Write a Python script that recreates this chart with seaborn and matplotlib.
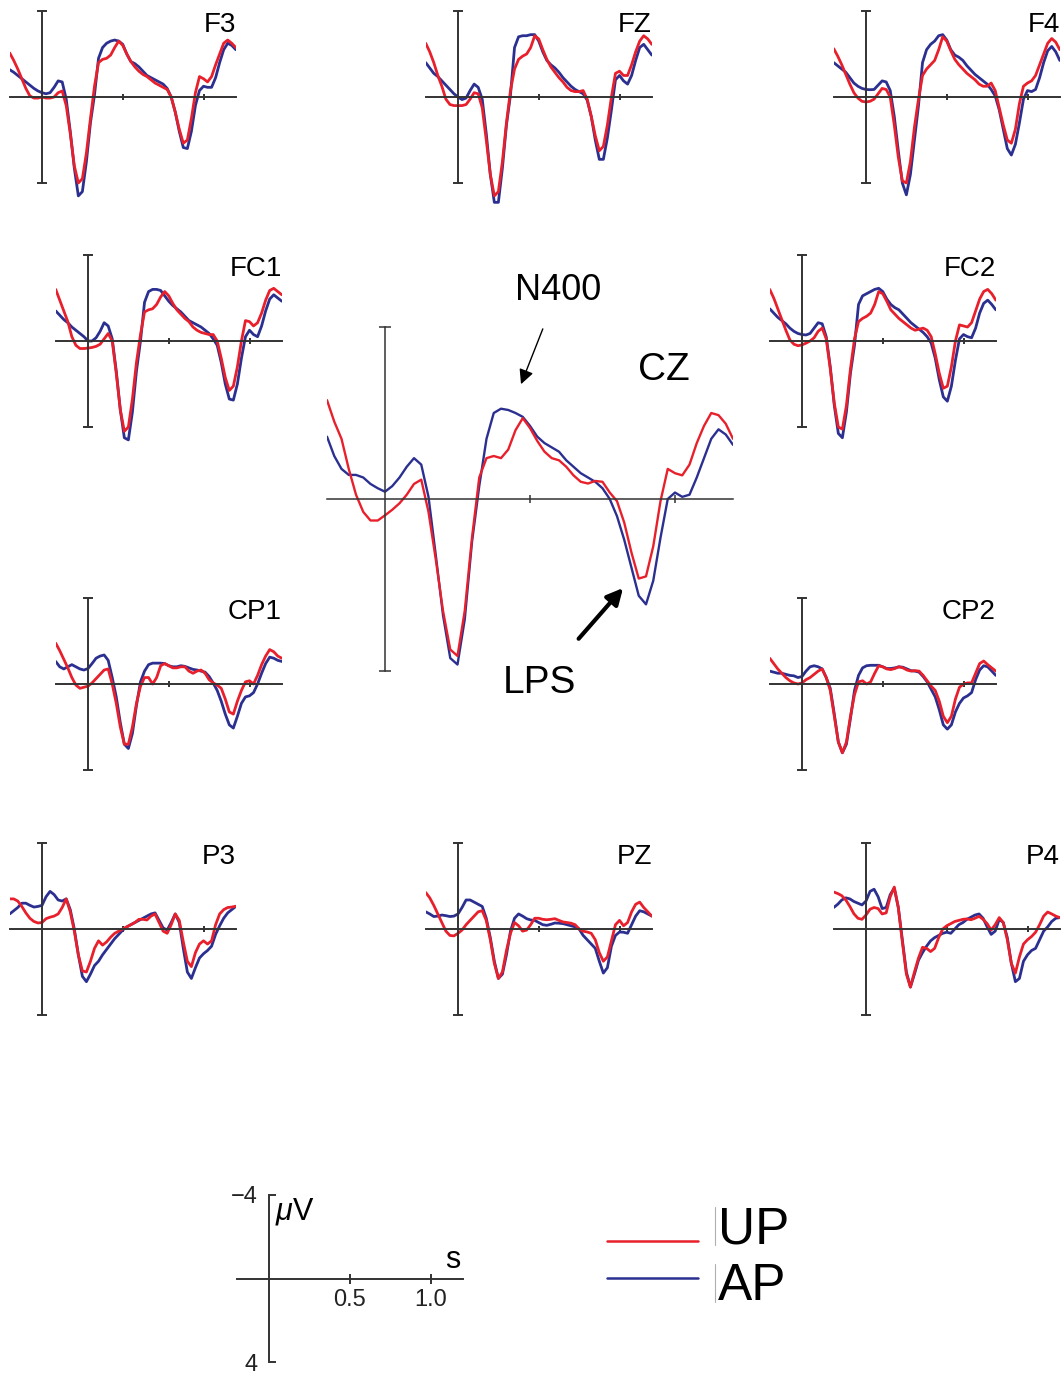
import numpy as np
import pandas as pd
import seaborn as sns
import matplotlib.pyplot as plt
from matplotlib.lines import Line2D

# shared time base (s), 25 ms steps
times = np.round(np.arange(-0.2, 1.2001, 0.025), 3)

# amplitudes in microvolts (negative plotted upwards)
F3_UP = [-2.05, -1.7, -1.3, -0.85, -0.4, -0.05, 0.05, 0.05, 0.0, 0.05,
         0.05, 0.0, -0.2, -0.28, 0.4, 1.7, 3.2, 4.0, 3.8, 2.6,
         1.0, -0.5, -1.6, -1.75, -1.8, -1.95, -2.3, -2.6, -2.4, -2.0,
         -1.65, -1.4, -1.2, -1.05, -0.95, -0.8, -0.65, -0.55, -0.45, -0.35,
         0.0, 0.7, 1.5, 2.15, 2.0, 1.0, -0.2, -0.95, -0.85, -0.7,
         -0.95, -1.5, -2.0, -2.5, -2.65, -2.5, -2.3]
F3_AP = [-1.27, -1.15, -1.0, -0.85, -0.7, -0.55, -0.4, -0.28, -0.2, -0.15,
         -0.2, -0.45, -0.75, -0.7, 0.1, 1.6, 3.3, 4.6, 4.4, 3.0,
         1.2, -0.1, -1.8, -2.3, -2.5, -2.6, -2.65, -2.6, -2.45, -2.0,
         -1.65, -1.55, -1.4, -1.2, -1.0, -0.9, -0.8, -0.7, -0.6, -0.4,
         0.0, 0.7, 1.6, 2.35, 2.4, 1.6, 0.4, -0.3, -0.5, -0.45,
         -0.45, -0.9, -1.6, -2.2, -2.5, -2.4, -2.2]
FZ_UP = [-2.5, -2.1, -1.6, -1.0, -0.5, 0.1, 0.35, 0.4, 0.4, 0.4,
         0.35, 0.1, -0.2, -0.15, 0.5, 2.0, 3.6, 4.6, 4.4, 3.0,
         1.2, -0.3, -1.3, -1.75, -1.9, -2.0, -2.3, -2.85, -2.7, -2.2,
         -1.75, -1.4, -1.15, -0.9, -0.7, -0.45, -0.3, -0.25, -0.25, -0.3,
         0.1, 0.9, 1.8, 2.5, 2.3, 1.3, 0.0, -1.1, -1.2, -1.0,
         -1.0, -1.5, -2.1, -2.6, -2.85, -2.7, -2.45]
FZ_AP = [-1.6, -1.35, -1.1, -0.95, -0.75, -0.55, -0.35, -0.15, 0.0, 0.12,
         0.05, -0.3, -0.6, -0.45, 0.1, 1.7, 3.6, 4.9, 4.9, 3.3,
         1.3, -0.1, -2.3, -2.8, -2.85, -2.85, -2.9, -2.9, -2.6, -2.1,
         -1.7, -1.5, -1.35, -1.15, -0.9, -0.7, -0.5, -0.35, -0.25, -0.15,
         0.15, 0.9, 2.0, 2.9, 2.9, 1.9, 0.6, -0.8, -1.0, -0.75,
         -0.6, -1.0, -1.7, -2.3, -2.45, -2.2, -1.95]
F4_UP = [-2.25, -1.9, -1.5, -1.05, -0.6, -0.2, 0.05, 0.2, 0.23, 0.2,
         0.1, -0.15, -0.4, -0.35, 0.0, 1.3, 2.8, 3.9, 4.0, 3.0,
         1.4, 0.1, -1.0, -1.3, -1.5, -1.7, -2.2, -2.8, -2.6, -2.15,
         -1.75, -1.5, -1.3, -1.1, -0.95, -0.8, -0.6, -0.5, -0.5, -0.65,
         -0.3, 0.5, 1.3, 2.0, 2.15, 1.5, 0.3, -0.5, -0.65, -0.75,
         -1.0, -1.5, -2.0, -2.5, -2.72, -2.55, -2.2]
F4_AP = [-1.6, -1.45, -1.3, -1.15, -0.9, -0.65, -0.5, -0.4, -0.35, -0.34,
         -0.35, -0.55, -0.75, -0.7, -0.3, 0.9, 2.5, 4.0, 4.55, 3.6,
         2.0, 0.4, -1.6, -2.2, -2.45, -2.6, -2.85, -2.9, -2.65, -2.2,
         -1.95, -1.85, -1.7, -1.45, -1.25, -1.05, -0.9, -0.75, -0.6, -0.35,
         -0.05, 0.6, 1.5, 2.4, 2.7, 2.2, 1.2, 0.1, -0.3, -0.25,
         -0.35, -0.9, -1.6, -2.15, -2.35, -2.1, -1.7]
FC1_UP = [-2.4, -1.9, -1.4, -0.9, -0.2, 0.2, 0.35, 0.35, 0.33, 0.3,
          0.25, 0.15, -0.1, -0.35, 0.0, 1.5, 3.2, 4.2, 4.0, 2.7,
          1.0, -0.3, -1.35, -1.45, -1.5, -1.7, -2.05, -2.3, -2.1, -1.75,
          -1.45, -1.25, -1.05, -0.9, -0.65, -0.5, -0.4, -0.35, -0.3, -0.3,
          0.0, 0.8, 1.7, 2.3, 2.1, 1.2, 0.0, -0.95, -0.9, -0.7,
          -0.85, -1.3, -1.9, -2.35, -2.45, -2.3, -2.15]
FC1_AP = [-1.4, -1.2, -1.0, -0.85, -0.65, -0.5, -0.35, -0.2, 0.0, 0.0,
          -0.15, -0.45, -0.85, -0.7, -0.1, 1.4, 3.2, 4.5, 4.6, 3.3,
          1.4, 0.0, -1.8, -2.3, -2.4, -2.4, -2.35, -2.1, -1.85, -1.65,
          -1.5, -1.35, -1.15, -0.95, -0.85, -0.75, -0.65, -0.5, -0.35, -0.1,
          0.2, 1.0, 2.0, 2.7, 2.75, 2.0, 0.8, -0.2, -0.5, -0.3,
          -0.2, -0.7, -1.4, -1.95, -2.15, -2.0, -1.85]
FC2_UP = [-2.4, -2.0, -1.5, -1.0, -0.5, -0.05, 0.15, 0.22, 0.18, 0.1,
          0.0, -0.15, -0.45, -0.6, -0.1, 1.3, 2.9, 4.0, 4.1, 3.0,
          1.3, -0.1, -0.9, -1.05, -1.15, -1.3, -1.7, -2.3, -2.2, -1.85,
          -1.45, -1.25, -1.05, -0.9, -0.75, -0.6, -0.5, -0.55, -0.6, -0.5,
          -0.2, 0.6, 1.5, 2.2, 2.1, 1.2, 0.0, -0.75, -0.7, -0.65,
          -0.85, -1.4, -1.95, -2.3, -2.4, -2.2, -1.9]
FC2_AP = [-1.5, -1.3, -1.1, -0.95, -0.8, -0.6, -0.45, -0.35, -0.3, -0.28,
          -0.35, -0.6, -0.85, -0.8, -0.2, 1.2, 3.0, 4.3, 4.5, 3.3,
          1.5, 0.2, -1.7, -2.1, -2.2, -2.3, -2.4, -2.45, -2.3, -1.95,
          -1.7, -1.55, -1.45, -1.25, -1.05, -0.85, -0.7, -0.55, -0.4, -0.2,
          0.1, 0.8, 1.8, 2.6, 2.8, 2.1, 0.9, -0.1, -0.3, -0.2,
          -0.15, -0.6, -1.3, -1.75, -1.9, -1.7, -1.45]
CZ_UP = [-2.3, -1.8, -1.4, -0.7, -0.1, 0.3, 0.5, 0.5, 0.38, 0.25,
         0.1, -0.1, -0.35, -0.45, 0.3, 1.4, 2.6, 3.5, 3.65, 2.6,
         0.9, -0.5, -0.95, -1.0, -0.95, -1.15, -1.6, -1.88, -1.65, -1.35,
         -1.1, -0.95, -0.9, -0.75, -0.55, -0.4, -0.36, -0.42, -0.4, -0.15,
         0.05, 0.55, 1.25, 1.85, 1.8, 1.1, 0.05, -0.7, -0.6, -0.55,
         -0.8, -1.3, -1.7, -2.0, -1.95, -1.75, -1.4]
CZ_AP = [-1.45, -1.0, -0.7, -0.56, -0.56, -0.5, -0.35, -0.25, -0.17, -0.3,
         -0.5, -0.75, -0.95, -0.8, -0.05, 1.3, 2.7, 3.7, 3.85, 2.8,
         1.0, -0.3, -1.4, -2.0, -2.1, -2.07, -2.0, -1.91, -1.7, -1.45,
         -1.3, -1.2, -1.1, -0.9, -0.75, -0.6, -0.5, -0.4, -0.25, 0.0,
         0.4, 0.95, 1.6, 2.25, 2.45, 1.9, 0.9, 0.0, -0.15, -0.05,
         -0.1, -0.5, -0.95, -1.4, -1.62, -1.5, -1.26]
CP1_UP = [-1.9, -1.55, -1.15, -0.75, -0.3, 0.05, 0.2, 0.15, 0.1, -0.05,
          -0.25, -0.45, -0.65, -0.7, 0.0, 0.9, 2.0, 2.8, 2.8, 2.0,
          0.9, 0.1, -0.3, -0.3, 0.0, -0.3, -0.85, -0.95, -0.85, -0.75,
          -0.75, -0.8, -0.8, -0.6, -0.5, -0.6, -0.65, -0.5, -0.2, -0.05,
          0.05, 0.2, 0.7, 1.3, 1.4, 0.8, 0.3, -0.1, -0.15, 0.0,
          -0.4, -0.9, -1.3, -1.6, -1.5, -1.3, -1.2]
CP1_AP = [-1.05, -0.8, -0.7, -0.8, -0.9, -0.8, -0.7, -0.65, -0.72, -0.95,
          -1.2, -1.3, -1.35, -1.1, -0.3, 0.6, 1.8, 2.8, 3.0, 2.3,
          1.0, -0.1, -0.6, -0.9, -0.97, -0.97, -0.97, -0.95, -0.85, -0.8,
          -0.8, -0.85, -0.82, -0.75, -0.68, -0.65, -0.6, -0.55, -0.35, -0.05,
          0.3, 0.8, 1.4, 1.9, 2.05, 1.5, 0.9, 0.6, 0.55, 0.4,
          0.0, -0.5, -0.95, -1.25, -1.2, -1.1, -1.05]
CP2_UP = [-1.2, -0.95, -0.7, -0.5, -0.3, -0.15, -0.05, 0.0, -0.05, -0.2,
          -0.3, -0.45, -0.6, -0.7, -0.3, 0.3, 1.5, 2.7, 3.2, 2.7,
          1.5, 0.5, -0.1, -0.15, 0.0, -0.1, -0.5, -0.85, -0.8, -0.7,
          -0.67, -0.72, -0.8, -0.75, -0.65, -0.6, -0.62, -0.6, -0.4, -0.15,
          0.1, 0.3, 0.8, 1.5, 1.8, 1.5, 0.7, 0.15, 0.0, -0.05,
          -0.05, -0.5, -0.95, -1.07, -0.9, -0.75, -0.6]
CP2_AP = [-0.6, -0.55, -0.5, -0.5, -0.45, -0.4, -0.38, -0.3, -0.35, -0.6,
          -0.8, -0.85, -0.8, -0.7, -0.3, 0.2, 1.4, 2.7, 3.2, 2.8,
          1.6, 0.3, -0.4, -0.75, -0.85, -0.87, -0.87, -0.87, -0.8, -0.72,
          -0.72, -0.75, -0.8, -0.78, -0.7, -0.62, -0.6, -0.55, -0.35, -0.1,
          0.25, 0.6, 1.2, 1.9, 2.1, 1.9, 1.3, 0.9, 0.65, 0.55,
          0.4, -0.2, -0.65, -0.85, -0.8, -0.6, -0.4]
P3_UP = [-1.4, -1.4, -1.3, -1.05, -0.75, -0.5, -0.35, -0.28, -0.3, -0.48,
         -0.55, -0.6, -0.7, -1.0, -1.4, -0.8, 0.1, 1.2, 1.95, 2.0,
         1.5, 0.9, 0.55, 0.75, 0.6, 0.38, 0.2, 0.1, 0.0, -0.1,
         -0.2, -0.3, -0.45, -0.45, -0.42, -0.6, -0.7, -0.3, 0.1, 0.2,
         -0.2, -0.7, -0.4, 0.6, 1.5, 1.75, 1.1, 0.7, 0.55, 0.7,
         0.55, -0.2, -0.7, -0.9, -1.0, -1.02, -1.06]
P3_AP = [-0.7, -0.85, -1.0, -1.2, -1.2, -1.1, -1.02, -1.05, -1.1, -1.5,
         -1.75, -1.6, -1.35, -1.3, -1.4, -0.9, 0.0, 1.2, 2.2, 2.45,
         2.1, 1.7, 1.5, 1.2, 0.95, 0.7, 0.45, 0.25, 0.05, -0.1,
         -0.2, -0.3, -0.4, -0.5, -0.6, -0.7, -0.75, -0.4, -0.05, 0.05,
         -0.3, -0.7, -0.3, 0.9, 2.0, 2.3, 1.8, 1.35, 1.15, 1.0,
         0.8, 0.25, -0.15, -0.5, -0.75, -0.9, -1.05]
PZ_UP = [-1.7, -1.45, -1.1, -0.7, -0.3, 0.1, 0.3, 0.32, 0.2, 0.05,
         -0.2, -0.4, -0.6, -0.8, -0.85, -0.4, 0.5, 1.6, 2.3, 2.0,
         1.0, 0.2, -0.3, -0.15, 0.1, 0.05, -0.2, -0.5, -0.5, -0.45,
         -0.43, -0.45, -0.48, -0.4, -0.33, -0.3, -0.27, -0.2, 0.0, 0.1,
         0.14, 0.2, 0.5, 1.1, 1.5, 1.3, 0.55, -0.2, -0.4, -0.15,
         -0.3, -0.8, -1.15, -1.25, -1.0, -0.8, -0.6]
PZ_AP = [-0.8, -0.7, -0.58, -0.6, -0.65, -0.62, -0.58, -0.6, -0.7, -1.0,
         -1.35, -1.35, -1.25, -1.15, -1.05, -0.5, 0.4, 1.5, 2.3, 2.1,
         1.2, 0.1, -0.5, -0.7, -0.6, -0.48, -0.42, -0.4, -0.3, -0.2,
         -0.17, -0.22, -0.28, -0.27, -0.25, -0.2, -0.15, -0.1, 0.0, 0.3,
         0.5, 0.7, 0.9, 1.5, 2.05, 1.8, 0.8, 0.3, 0.14, 0.15,
         0.2, -0.2, -0.6, -0.85, -0.8, -0.7, -0.6]
P4_UP = [-1.72, -1.65, -1.55, -1.35, -1.05, -0.71, -0.5, -0.45, -0.65, -0.92,
         -1.0, -0.95, -0.7, -0.75, -1.5, -1.95, -1.0, 0.6, 2.1, 2.7,
         2.0, 1.35, 0.85, 0.9, 1.05, 0.9, 0.4, 0.0, -0.15, -0.25,
         -0.35, -0.4, -0.45, -0.47, -0.43, -0.5, -0.59, -0.45, -0.25, 0.05,
         -0.2, -0.53, -0.3, 0.5, 1.6, 2.05, 1.3, 0.7, 0.5, 0.35,
         0.15, -0.2, -0.6, -0.79, -0.7, -0.6, -0.53]
P4_AP = [-1.0, -1.15, -1.35, -1.45, -1.4, -1.28, -1.2, -1.12, -1.3, -1.75,
         -1.85, -1.5, -0.95, -1.0, -1.6, -1.9, -1.0, 0.5, 2.0, 2.7,
         2.1, 1.45, 1.1, 0.8, 0.55, 0.4, 0.3, 0.2, 0.15, 0.2,
         0.0, -0.2, -0.3, -0.45, -0.55, -0.65, -0.7, -0.5, -0.1, 0.25,
         0.1, -0.45, -0.3, 0.4, 1.6, 2.45, 2.3, 1.5, 1.2, 1.0,
         0.9, 0.5, 0.1, -0.1, -0.35, -0.5, -0.53]

channels = {
    'F3': (F3_UP, F3_AP), 'FZ': (FZ_UP, FZ_AP), 'F4': (F4_UP, F4_AP),
    'FC1': (FC1_UP, FC1_AP), 'FC2': (FC2_UP, FC2_AP), 'CZ': (CZ_UP, CZ_AP),
    'CP1': (CP1_UP, CP1_AP), 'CP2': (CP2_UP, CP2_AP),
    'P3': (P3_UP, P3_AP), 'PZ': (PZ_UP, PZ_AP), 'P4': (P4_UP, P4_AP),
}

frames = []
for ch, (up, ap) in channels.items():
    assert len(up) == len(times) and len(ap) == len(times), ch
    for cond, vals in (('AP', ap), ('UP', up)):
        frames.append(pd.DataFrame({'channel': ch, 'condition': cond,
                                    'time': times, 'uV': vals}))
df = pd.concat(frames, ignore_index=True)

RED, BLUE = '#e8202c', '#2b3090'
AXC = '#333333'
palette = {'UP': RED, 'AP': BLUE}

sns.set_style('white')
plt.rcParams['font.family'] = ['Liberation Sans', 'DejaVu Sans']
plt.rcParams['text.color'] = 'black'
plt.rcParams['mathtext.fontset'] = 'custom'
plt.rcParams['mathtext.it'] = 'Liberation Sans:italic'
plt.rcParams['mathtext.rm'] = 'Liberation Sans'

W, H = 1061, 1377
fig = plt.figure(figsize=(W / 100, H / 100), dpi=100)


def make_axes(x0, y0, sx, sy):
    # x0, y0: pixel spot of (0 s, 0 uV); sx, sy: pixels per second / per uV
    left = x0 - 0.2 * sx
    top = y0 - 4.5 * sy
    ax = fig.add_axes([left / W, 1 - (top + 10 * sy) / H, 1.4 * sx / W, 10 * sy / H])
    ax.patch.set_visible(False)
    return ax


def style(ax, alw, ylen, xlen):
    ax.set_xlim(-0.2, 1.2)
    ax.set_ylim(5.5, -4.5)
    ax.set_xlabel('')
    ax.set_ylabel('')
    for side in ('top', 'right'):
        ax.spines[side].set_visible(False)
    for side in ('left', 'bottom'):
        ax.spines[side].set_position(('data', 0))
        ax.spines[side].set_linewidth(alw)
        ax.spines[side].set_color(AXC)
    ax.spines['left'].set_bounds(-4, 4)
    ax.spines['bottom'].set_bounds(-0.2, 1.2)
    ax.set_xticks([0.5, 1.0])
    ax.set_yticks([-4, 4])
    ax.tick_params(axis='y', left=True, direction='inout', length=ylen, width=alw,
                   color=AXC, labelleft=False)
    ax.tick_params(axis='x', bottom=True, direction='inout', length=xlen, width=alw,
                   color=AXC, labelbottom=False)


small_pos = {
    'F3': (42, 97), 'FZ': (458, 97), 'F4': (866, 97),
    'FC1': (88, 341), 'FC2': (802, 341),
    'CP1': (88, 684), 'CP2': (802, 684),
    'P3': (42, 929), 'PZ': (458, 929), 'P4': (866, 929),
}

for ch, (x0, y0) in small_pos.items():
    ax = make_axes(x0, y0, 161.5, 21.5)
    sns.lineplot(data=df[df['channel'] == ch], x='time', y='uV', hue='condition',
                 hue_order=['AP', 'UP'], palette=palette, linewidth=2.0,
                 legend=False, ax=ax)
    style(ax, 1.4, 7, 5)
    ax.text(1.2, -3.95, ch, ha='right', va='top', fontsize=20)

# central CZ panel, drawn larger
ax = make_axes(385, 499, 290, 43)
sns.lineplot(data=df[df['channel'] == 'CZ'], x='time', y='uV', hue='condition',
             hue_order=['AP', 'UP'], palette=palette, linewidth=1.7,
             legend=False, ax=ax)
style(ax, 1.1, 8, 6)
ax.text(0.96, -3.0, 'CZ', ha='center', va='center', fontsize=28)
ax.annotate('N400', xy=(0.469, -2.67), xytext=(0.597, -4.86),
            ha='center', va='center', fontsize=26, annotation_clip=False,
            arrowprops=dict(arrowstyle='-|>', color='black', lw=1.0,
                            mutation_scale=22, shrinkA=14, shrinkB=0))
ax.annotate('LPS', xy=(0.821, 2.07), xytext=(0.534, 4.28),
            ha='center', va='center', fontsize=28, annotation_clip=False,
            arrowprops=dict(arrowstyle='-|>', color='black', lw=3.0,
                            mutation_scale=24, shrinkA=22, shrinkB=0))

# scale bar
ax = make_axes(269, 1278.5, 161.5, 20.9)
style(ax, 1.4, 6, 6)
ax.tick_params(axis='y', direction='in', length=5, labelleft=True, labelsize=17,
               pad=8, labelcolor='#222222')
ax.tick_params(axis='x', direction='inout', length=7, labelbottom=True, labelsize=17,
               pad=4, labelcolor='#222222')
ax.set_yticklabels(['\u22124', '4'])
ax.set_xticklabels(['0.5', '1.0'])
ax.text(0.035, -3.2, r'$\mu$V', ha='left', va='center', fontsize=22)
ax.text(1.14, -0.9, 's', ha='center', va='center', fontsize=22)

# legend
for y, col, lab, base in ((1241, RED, 'UP', 1243), (1278, BLUE, 'AP', 1300)):
    fig.add_artist(Line2D([607 / W, 698 / W], [1 - y / H, 1 - y / H],
                          transform=fig.transFigure, color=col, lw=1.8))
    fig.add_artist(Line2D([715 / W, 715 / W], [1 - (base - 36) / H, 1 - (base + 2) / H],
                          transform=fig.transFigure, color='#b0b0b0', lw=0.8))
    fig.text(718 / W, 1 - base / H, lab, fontsize=37, va='baseline', ha='left')

fig.savefig('out.png', dpi=100)
